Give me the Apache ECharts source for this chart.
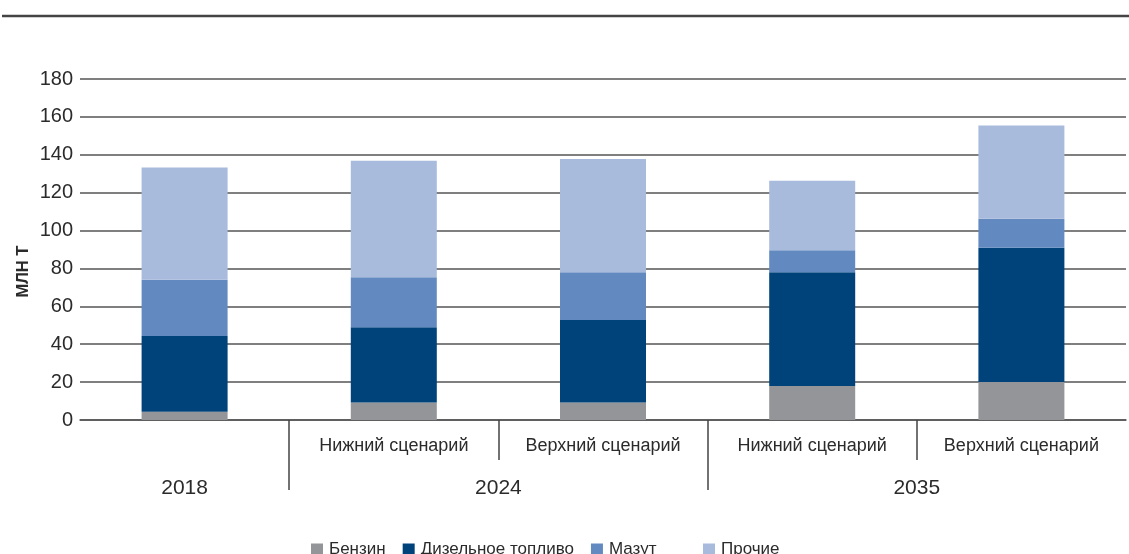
<!DOCTYPE html>
<html>
<head>
<meta charset="utf-8">
<script src="https://cdn.jsdelivr.net/npm/echarts@6/dist/echarts.min.js"></script>
<style>
  html, body { margin: 0; padding: 0; background: #fff; }
  #chart { width: 1129px; height: 554px; }
</style>
</head>
<body>
<div id="chart"></div>
<script>
  // scenario labels under each bar
  const categories = ['', 'Нижний сценарий', 'Верхний сценарий', 'Нижний сценарий', 'Верхний сценарий'];
  // year labels on a half-category grid (11 points across the plot)
  const yearLabels = ['', '2018', '', '', '2024', '', '', '', '2035', '', ''];
  const longTicks = [2, 6];
  const shortTicks = [4, 8];

  const benzin = [4.4, 9.3, 9.3, 18.0, 20.0];
  const diesel = [40.0, 39.6, 43.5, 60.0, 70.9];
  const mazut = [29.6, 26.4, 25.2, 11.6, 15.3];
  const other = [59.3, 61.6, 59.8, 36.7, 49.3];

  const font = 'Arial, "Liberation Sans", sans-serif';
  const textColor = '#2b2b2b';

  const chart = echarts.init(document.getElementById('chart'));

  function bar(name, data, color) {
    return {
      name: name,
      type: 'bar',
      stack: 'total',
      barWidth: 86,
      data: data,
      itemStyle: { color: color },
      emphasis: { disabled: true }
    };
  }

  chart.setOption({
    animation: false,
    textStyle: { fontFamily: font },
    grid: { left: 80, right: 2, top: 79, bottom: 134, containLabel: false },
    legend: [
      {
        left: 306, top: 536,
        itemWidth: 12, itemHeight: 12, itemGap: 17,
        icon: 'rect',
        data: ['Бензин', 'Дизельное топливо', 'Мазут'],
        textStyle: { fontSize: 17, color: textColor, fontFamily: font, padding: [0, 0, 0, 1] }
      },
      {
        left: 698, top: 536,
        itemWidth: 12, itemHeight: 12,
        icon: 'rect',
        data: ['Прочие'],
        textStyle: { fontSize: 17, color: textColor, fontFamily: font, padding: [0, 0, 0, 1] }
      }
    ],
    xAxis: [
      {
        type: 'category',
        data: categories,
        axisLine: { lineStyle: { color: '#555', width: 1.5 } },
        axisTick: { show: false },
        axisLabel: { interval: 0, margin: 17, fontSize: 18, color: textColor, fontFamily: font }
      },
      {
        type: 'category',
        boundaryGap: false,
        data: yearLabels,
        position: 'bottom',
        axisLine: { show: false },
        axisTick: {
          show: true, length: 70,
          interval: (i) => longTicks.indexOf(i) >= 0,
          lineStyle: { color: '#444', width: 1.5 }
        },
        axisLabel: { interval: 0, margin: 58, fontSize: 21, color: textColor, fontFamily: font }
      },
      {
        type: 'category',
        boundaryGap: false,
        data: yearLabels.map(() => ''),
        position: 'bottom',
        axisLine: { show: false },
        axisTick: {
          show: true, length: 40,
          interval: (i) => shortTicks.indexOf(i) >= 0,
          lineStyle: { color: '#444', width: 1.5 }
        },
        axisLabel: { show: false }
      }
    ],
    yAxis: {
      type: 'value',
      min: 0, max: 180, interval: 20,
      name: 'МЛН Т',
      nameLocation: 'middle',
      nameRotate: 90,
      nameGap: 48,
      nameMoveOverlap: false,
      nameTextStyle: { fontSize: 16.5, fontWeight: 'bold', color: textColor, fontFamily: font, padding: [0, 44, 0, 0] },
      axisLine: { show: false },
      axisTick: { show: false },
      axisLabel: { margin: 7, fontSize: 20, color: textColor, fontFamily: font },
      splitLine: { lineStyle: { color: '#555', width: 1.5 } }
    },
    series: [
      bar('Бензин', benzin, '#939598'),
      bar('Дизельное топливо', diesel, '#00427a'),
      bar('Мазут', mazut, '#628ac1'),
      bar('Прочие', other, '#a8bbdc')
    ],
    graphic: [
      {
        type: 'line',
        shape: { x1: 2, y1: 16, x2: 1129, y2: 16 },
        style: { stroke: '#444', lineWidth: 2.5 }
      }
    ]
  });
</script>
</body>
</html>
